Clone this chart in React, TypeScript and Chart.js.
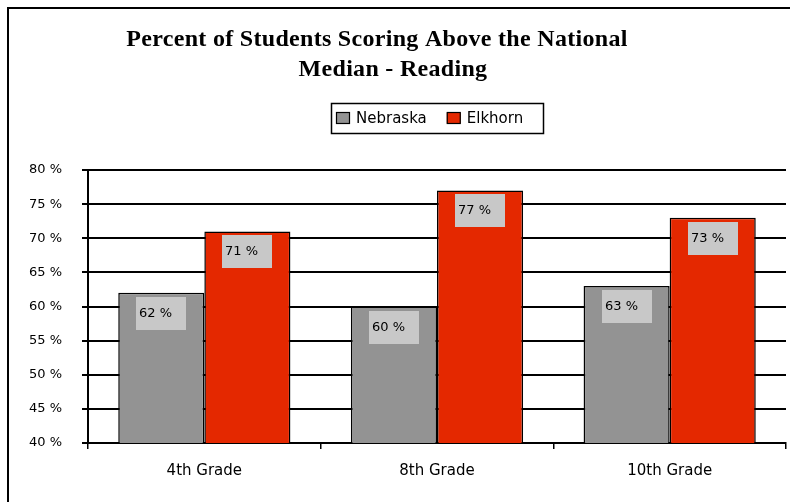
import React, { useEffect, useRef } from "react";
import { Chart, registerables } from "chart.js";

Chart.register(...registerables);

const categories = ["4th Grade", "8th Grade", "10th Grade"];
const nebraska = [62, 60, 63];
const elkhorn = [71, 77, 73];
const seriesNames = ["Nebraska", "Elkhorn"];
const seriesColors = ["#939393", "#e42800"];
const titleLines = ["Percent of Students Scoring Above the National", "Median - Reading"];

const SANS = "'DejaVu Sans', 'Liberation Sans', sans-serif";
const SERIF = "'Liberation Serif', 'Times New Roman', serif";

const decorPlugin = {
  id: "decor",
  beforeDraw(chart: any) {
    const ctx = chart.ctx;
    ctx.save();
    ctx.fillStyle = "#ffffff";
    ctx.fillRect(0, 0, chart.width, chart.height);
    ctx.strokeStyle = "#000";
    ctx.lineWidth = 2;
    ctx.strokeRect(8, 8, chart.width + 20, chart.height + 20);
    ctx.restore();
  },
  afterDraw(chart: any) {
    const ctx = chart.ctx;
    ctx.save();
    // title
    ctx.fillStyle = "#000";
    ctx.font = `bold 24px ${SERIF}`;
    (ctx as any).letterSpacing = "0.3px";
    ctx.textAlign = "center";
    ctx.textBaseline = "alphabetic";
    ctx.fillText(titleLines[0], 377, 46);
    ctx.fillText(titleLines[1], 393, 76);
    (ctx as any).letterSpacing = "0px";

    // legend
    const boxL = 331, boxT = 103, boxR = 543, boxB = 133;
    ctx.fillStyle = "#fff";
    ctx.fillRect(boxL, boxT, boxR - boxL, boxB - boxT);
    ctx.strokeStyle = "#000";
    ctx.lineWidth = 1.5;
    ctx.strokeRect(boxL + 0.5, boxT + 0.5, boxR - boxL, boxB - boxT);
    ctx.font = `15px ${SANS}`;
    ctx.textAlign = "left";
    ctx.textBaseline = "middle";
    const cy = (boxT + boxB) / 2;
    let x = boxL + 5;
    chart.data.datasets.forEach((ds: any) => {
      ctx.fillStyle = ds.backgroundColor;
      ctx.fillRect(x, cy - 5.5, 14, 11);
      ctx.strokeStyle = "#000";
      ctx.lineWidth = 1.2;
      ctx.strokeRect(x + 0.5, cy - 5.5, 13, 11);
      ctx.fillStyle = "#000";
      ctx.fillText(ds.label, x + 20, cy + 1);
      x += 20 + ctx.measureText(ds.label).width + 20;
    });
    ctx.restore();
  },
};

const labelPlugin = {
  id: "boxLabels",
  afterDatasetsDraw(chart: any) {
    const ctx = chart.ctx;
    ctx.save();
    ctx.font = `13px ${SANS}`;
    ctx.textBaseline = "middle";
    ctx.textAlign = "left";
    chart.data.datasets.forEach((ds: any, di: number) => {
      const meta = chart.getDatasetMeta(di);
      meta.data.forEach((bar: any, i: number) => {
        const v = ds.data[i];
        const w = 50, h = 33;
        const x = Math.round(bar.x - w / 2);
        const y = Math.round(bar.y + 4);
        ctx.fillStyle = "#c8c8c8";
        ctx.fillRect(x, y, w, h);
        ctx.fillStyle = "#000";
        ctx.fillText(`${v} %`, x + 3, y + h / 2);
      });
    });
    ctx.restore();
  },
};

export default function App() {
  const ref = useRef<HTMLCanvasElement | null>(null);
  useEffect(() => {
    document.body.style.margin = "0";
    const canvas = ref.current!;
    const chart = new Chart(canvas, {
      type: "bar",
      data: {
        labels: categories,
        datasets: [
          {
            label: seriesNames[0],
            data: nebraska,
            backgroundColor: seriesColors[0],
            borderColor: "#000",
            borderWidth: 1.5,
          },
          {
            label: seriesNames[1],
            data: elkhorn,
            backgroundColor: seriesColors[1],
            borderColor: "#000",
            borderWidth: 1.5,
          },
        ],
      },
      options: {
        responsive: false,
        animation: false,
        devicePixelRatio: 1,
        datasets: { bar: { categoryPercentage: 0.74, barPercentage: 1 } },
        layout: { padding: { left: 28, right: 4, top: 170, bottom: 0 } },
        plugins: {
          title: { display: false },
          legend: { display: false },
          tooltip: { enabled: false },
        },
        scales: {
          x: {
            grid: {
              display: true,
              drawOnChartArea: false,
              drawTicks: true,
              tickLength: 6,
              color: "#000",
              lineWidth: 1.5,
              offset: true,
            },
            border: { display: true, color: "#000", width: 2 },
            ticks: { color: "#000", font: { family: SANS, size: 15 }, padding: 13 },
            afterFit(scale: any) {
              scale.height = 59;
            },
          },
          y: {
            min: 40,
            max: 80,
            ticks: {
              stepSize: 5,
              color: "#000",
              font: { family: SANS, size: 13 },
              padding: 20,
              callback: (v: any) => `${v} %`,
            },
            grid: { color: "#000", lineWidth: 2, tickLength: 6 },
            border: { display: true, color: "#000", width: 2 },
            afterFit(scale: any) {
              scale.width = 60;
            },
          },
        },
      },
      plugins: [decorPlugin, labelPlugin],
    });
    return () => chart.destroy();
  }, []);
  return (
    <div style={{ position: "absolute", left: 0, top: 0, width: 790, height: 502 }}>
      <canvas ref={ref} width={790} height={502} style={{ width: 790, height: 502, display: "block" }} />
    </div>
  );
}
